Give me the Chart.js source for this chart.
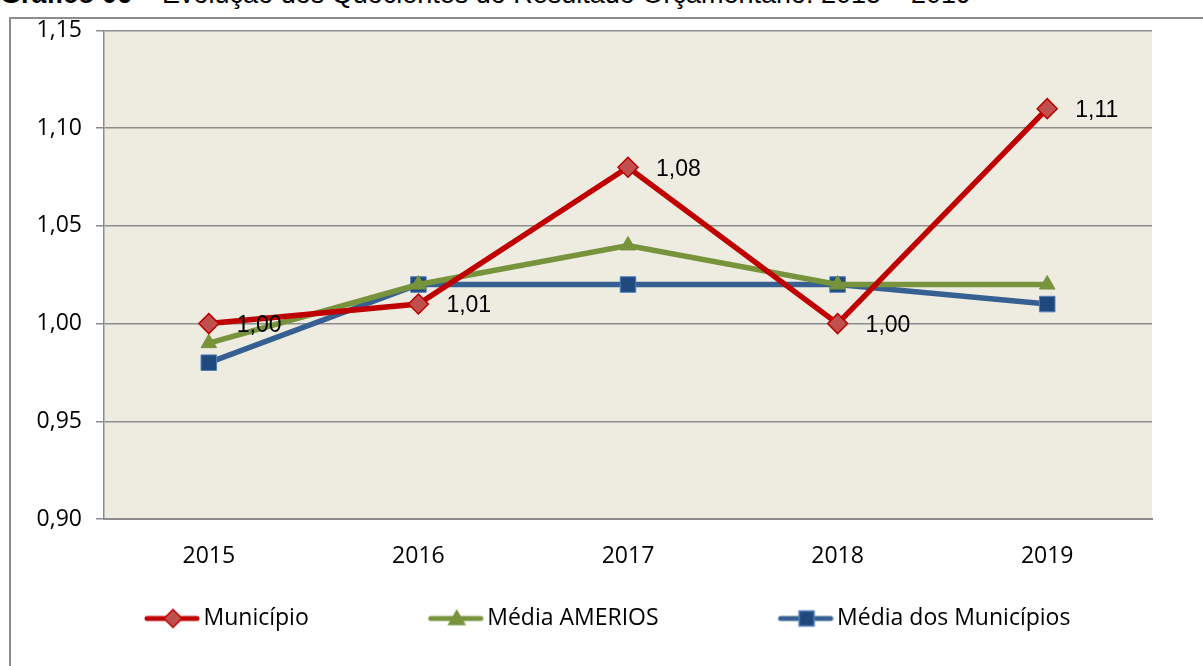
<!DOCTYPE html>
<html>
<head>
<meta charset="utf-8">
<script src="https://cdn.jsdelivr.net/npm/chart.js@4"></script>
<style>
  body { margin: 0; background: #fff; overflow: hidden; }
  #titulo {
    position: absolute; left: 0; top: -21px; white-space: nowrap; line-height: 31px;
    font-family: "Liberation Sans", Arial, sans-serif; font-size: 27px; color: #000;
  }
  #caixa {
    position: absolute; left: 9px; top: 17px; width: 1194px; height: 660px;
    border-left: 2px solid #8c8c8c; border-top: 2px solid #8c8c8c;
  }
  #grafico { position: absolute; left: 0; top: -14px; }
</style>
</head>
<body>
<div id="titulo"><b>Gráfico 06</b> – Evolução dos Quocientes do Resultado Orçamentário: 2015 – 2019</div>
<div id="caixa"><canvas id="grafico" width="1192" height="661"></canvas></div>
<script>
// Dados
const anos = ['2015', '2016', '2017', '2018', '2019'];
const municipio = [1.00, 1.01, 1.08, 1.00, 1.11];
const mediaAmerios = [0.99, 1.02, 1.04, 1.02, 1.02];
const mediaMunicipios = [0.98, 1.02, 1.02, 1.02, 1.01];

const fonteEixo = '"Open Sans", "Noto Sans", sans-serif';

// Fundo da área de plotagem
const fundoPlot = {
    id: 'fundoPlot',
    beforeDraw(chart) {
        const a = chart.chartArea;
        const c = chart.ctx;
        c.save();
        c.fillStyle = '#EEECE1';
        c.fillRect(a.left, a.top, a.right - a.left, a.bottom - a.top);
        c.restore();
    }
};

// Rótulos de dados só para a série Município
const rotulos = {
    id: 'rotulos',
    afterDatasetsDraw(chart) {
        const c = chart.ctx;
        const meta = chart.getDatasetMeta(0);
        c.save();
        c.font = '23px "Liberation Sans", Arial, sans-serif';
        c.fillStyle = '#000';
        c.textAlign = 'left';
        c.textBaseline = 'middle';
        meta.data.forEach((pt, i) => {
            c.fillText(municipio[i].toFixed(2).replace('.', ','), pt.x + 28, pt.y + 2);
        });
        c.restore();
    }
};

// Ícone da legenda: linha com marcador
function iconeLegenda(corLinha, corMarca, corBorda, forma) {
    const cv = document.createElement('canvas');
    cv.width = 182;
    cv.height = 24;
    const c = cv.getContext('2d');
    c.strokeStyle = corLinha;
    c.lineWidth = 5;
    c.lineCap = 'round';
    c.beginPath();
    c.moveTo(182 - 53, 12);
    c.lineTo(179, 12);
    c.stroke();
    const cx = 182 - 27, cy = 12;
    c.fillStyle = corMarca;
    c.strokeStyle = corBorda;
    c.lineWidth = 1.5;
    c.beginPath();
    if (forma === 'losango') {
        c.moveTo(cx, cy - 9); c.lineTo(cx + 9, cy); c.lineTo(cx, cy + 9); c.lineTo(cx - 9, cy);
    } else if (forma === 'triangulo') {
        c.moveTo(cx, cy - 8); c.lineTo(cx + 8, cy + 6); c.lineTo(cx - 8, cy + 6);
    } else {
        c.rect(cx - 7.5, cy - 7.5, 15, 15);
    }
    c.closePath();
    c.fill();
    c.stroke();
    return cv;
}

const icones = [
    iconeLegenda('#C00000', '#C0504D', '#C00000', 'losango'),
    iconeLegenda('#77933C', '#77933C', '#77933C', 'triangulo'),
    iconeLegenda('#376092', '#1F497D', '#4F81BD', 'quadrado')
];

new Chart(document.getElementById('grafico'), {
    type: 'line',
    data: {
        labels: anos,
        datasets: [{
            label: 'Município',
            data: municipio,
            borderColor: '#C00000',
            borderWidth: 5.5,
            pointStyle: 'rectRot',
            pointRadius: 10,
            pointBackgroundColor: '#C0504D',
            pointBorderColor: '#C00000',
            pointBorderWidth: 1.5,
            tension: 0
        }, {
            label: 'Média AMERIOS',
            data: mediaAmerios,
            borderColor: '#77933C',
            borderWidth: 5.5,
            pointStyle: 'triangle',
            pointRadius: 9,
            pointBackgroundColor: '#77933C',
            pointBorderColor: '#77933C',
            pointBorderWidth: 1,
            tension: 0
        }, {
            label: 'Média dos Municípios',
            data: mediaMunicipios,
            borderColor: '#376092',
            borderWidth: 5.5,
            pointStyle: 'rect',
            pointRadius: 11,
            pointBackgroundColor: '#1F497D',
            pointBorderColor: '#4F81BD',
            pointBorderWidth: 1,
            tension: 0
        }]
    },
    options: {
        responsive: false,
        animation: false,
        layout: { autoPadding: false, padding: { left: 14, right: 51, top: 0, bottom: 26 } },
        scales: {
            x: {
                offset: true,
                grid: { display: false, drawTicks: false },
                border: { display: true, color: '#8c8c8c', width: 2 },
                ticks: { color: '#000', padding: 26, font: { family: fonteEixo, size: 23, lineHeight: 1 } },
                afterFit(s) { s.height = 87; }
            },
            y: {
                min: 0.9,
                max: 1.15,
                ticks: {
                    stepSize: 0.05,
                    color: '#000',
                    padding: 14,
                    font: { family: fonteEixo, size: 23, lineHeight: 1 },
                    callback: v => v.toFixed(2).replace('.', ',')
                },
                grid: { color: '#8c8c8c', lineWidth: 1.5, tickLength: 8 },
                border: { display: true, color: '#8c8c8c', width: 1.5 },
                afterFit(s) { s.width = 79; }
            }
        },
        plugins: {
            tooltip: { enabled: false },
            legend: {
                position: 'bottom',
                align: 'start',
                maxHeight: 40,
                labels: {
                    usePointStyle: true,
                    pointStyleWidth: 166,
                    padding: 1,
                    color: '#000',
                    font: { family: fonteEixo, size: 23 },
                    generateLabels(chart) {
                        return chart.data.datasets.map((ds, i) => ({
                            text: ds.label,
                            pointStyle: icones[i],
                            fillStyle: 'transparent',
                            strokeStyle: 'transparent',
                            lineWidth: 0,
                            datasetIndex: i
                        }));
                    }
                }
            }
        }
    },
    plugins: [fundoPlot, rotulos]
});
</script>
</body>
</html>
